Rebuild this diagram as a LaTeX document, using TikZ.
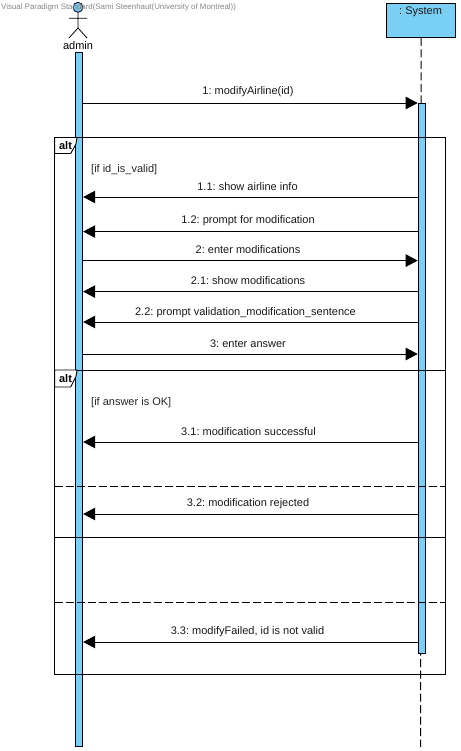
\documentclass[tikz,border=0pt]{standalone}
\usepackage{fontspec}
\setmainfont{Liberation Sans}
\usetikzlibrary{arrows.meta}
\definecolor{vpblue}{HTML}{7ACFF5}
\frenchspacing
\tikzset{
  px/.style={x=1pt,y=-1pt},
  bar/.style={draw=black!90!blue,fill=vpblue,line width=0.9pt,minimum width=7.6pt,inner sep=0pt,anchor=north west},
  lifeline/.style={line width=0.9pt,dash pattern=on 8pt off 3.5pt},
  msg/.style={line width=0.9pt,-{Triangle[length=12pt,width=12.5pt]}},
  msglabel/.style={font=\fontsize{11}{12}\selectfont,inner sep=0pt,text=black!90},
  frameline/.style={line width=0.9pt},
  divider/.style={line width=0.8pt,dash pattern=on 8pt off 3pt},
  tag/.style={draw=black,fill=white,line width=0.9pt},
  tagtext/.style={font=\fontsize{11}{12}\selectfont\bfseries,inner sep=0pt},
  guard/.style={font=\fontsize{11}{12}\selectfont,inner sep=0pt,anchor=west,text=black!85}
}
\begin{document}
\begin{tikzpicture}[px]
\useasboundingbox (0,0) rectangle (460,751);
% system head
\node[draw=black,fill=vpblue,line width=0.9pt,minimum width=68.5pt,minimum height=34.5pt,inner sep=0pt,anchor=north west] (sys) at (386.4,2.6) {};
\node[msglabel] (systxt) at (420.6,11.5) {: System};
\coordinate (sysend) at (420.6,747);
\draw[lifeline] (sys.south) -- (sysend);
% activations
\node[bar,minimum height=694pt] (aA) at (74.7,52) {};
\node[bar,minimum height=549.5pt] (sA) at (417.7,103.5) {};
% actor
\draw[line width=0.8pt] (78,12) -- (78,28) (69,18.3) -- (87,18.3) (69,38) -- (78,28) -- (87,38);
\draw[draw=black!85!blue,fill=vpblue!85!gray,line width=0.8pt] (78,7.3) circle (5);
\node[font=\fontsize{11}{12}\selectfont,inner sep=0pt] (admin) at (78,45.5) {admin};
\node[font=\fontsize{7.9}{9}\selectfont,text=black!48,inner sep=0pt,anchor=west] (wm) at (1,7.5) {Visual Paradigm Standard(Sami Steenhaut(University of Montreal))};
% frames
\draw[frameline] (54.6,137.5) rectangle (445.4,674);
\draw[frameline] (54.6,370) -- (445.4,370);
\draw[frameline] (54.6,537) -- (445.4,537);
\draw[divider] (54.6,486) -- (445.4,486);
\draw[divider] (54.6,602) -- (445.4,602);
\draw[tag] (54.6,137.5) -- (77,137.5) to[bend left=12] (76,144) -- (70.7,153.5) -- (54.6,153.5) -- cycle;
\node[tagtext] (alta) at (65.5,146) {alt};
\draw[tag] (54.6,370) -- (77,370) to[bend left=12] (76,376.5) -- (70.7,387) -- (54.6,387) -- cycle;
\node[tagtext] (altb) at (65.5,379) {alt};
\node[guard] (ga) at (91,170) {[if id\_is\_valid]};
\node[guard] (gb) at (91,403) {[if answer is OK]};
% messages
\draw[msg] (aA.east |- 0,103) -- (sA.west |- 0,103);
\node[msglabel] (m1) at (248,92) {1: modifyAirline(id)};
\draw[msg] (sA.west |- 0,197) -- (aA.east |- 0,197);
\node[msglabel] (m11) at (247.5,187) {1.1: show airline info};
\draw[msg] (sA.west |- 0,231.6) -- (aA.east |- 0,231.6);
\node[msglabel] (m12) at (248,220.5) {1.2: prompt for modification};
\draw[msg] (aA.east |- 0,260.6) -- (sA.west |- 0,260.6);
\node[msglabel] (m2) at (248,250) {2: enter modifications};
\draw[msg] (sA.west |- 0,291.6) -- (aA.east |- 0,291.6);
\node[msglabel] (m21) at (248,281) {2.1: show modifications};
\draw[msg] (sA.west |- 0,322) -- (aA.east |- 0,322);
\node[msglabel] (m22) at (245.5,312.5) {2.2: prompt validation\_modification\_sentence};
\draw[msg] (aA.east |- 0,354) -- (sA.west |- 0,354);
\node[msglabel] (m3) at (248,344) {3: enter answer};
\draw[msg] (sA.west |- 0,442) -- (aA.east |- 0,442);
\node[msglabel] (m31) at (248.5,432) {3.1: modification successful};
\draw[msg] (sA.west |- 0,514) -- (aA.east |- 0,514);
\node[msglabel] (m32) at (248,504) {3.2: modification rejected};
\draw[msg] (sA.west |- 0,642) -- (aA.east |- 0,642);
\node[msglabel] (m33) at (247.5,631.5) {3.3: modifyFailed, id is not valid};
\end{tikzpicture}
\end{document}
